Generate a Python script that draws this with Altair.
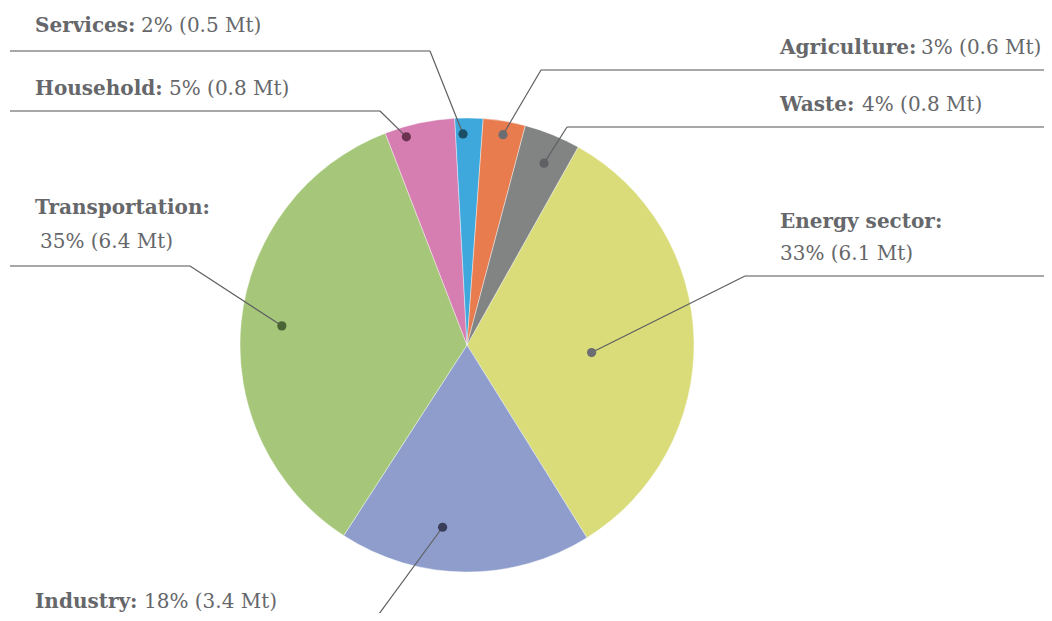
import math
import pandas as pd
import altair as alt

# ---- data ----
sectors = ["Energy sector", "Industry", "Transportation", "Household", "Services", "Agriculture", "Waste"]
shares = [33, 18, 35, 5, 2, 3, 4]
emissions_mt = [6.1, 3.4, 6.4, 0.8, 0.5, 0.6, 0.8]
slice_colors = ["#d9dc79", "#8e9dcb", "#a6c779", "#d67db2", "#3ea8dc", "#e87c4e", "#828484"]
dot_colors = ["#6c6d72", "#3a3e58", "#4a6436", "#6b3350", "#1c4e66", "#6c6d72", "#5f6064"]

# ---- layout (annotation placement, image pixel coordinates) ----
CX, CY, R = 467, 345, 227
START_DEG = 29.3
dot_angle_frac = [0.54, 0.61, 0.50, 0.27, 0.28, 0.52, 0.56]
dot_radius_frac = [0.55, 0.81, 0.82, 0.955, 0.93, 0.94, 0.87]
elbow_x = [745, 365, 190, 380, 430, 541, 567]
elbow_y = [276, 633, 266, 111, 51, 70, 127]
end_x = [1060, 10, 10, 10, 10, 1060, 1060]
name_x = [780, 35, 35, 35, 35, 780, 780]
name_y = [228, 608, 214, 95, 32, 54, 111]
value_x = [780, 144, 40, 169, 141, 921, 862]
value_y = [260, 608, 248, 95, 32, 54, 111]

FONT = "DejaVu Serif"
TEXT_COLOR = "#66676a"
W, H = 1036, 605
X0, Y0 = 8, 8

total = sum(shares)
pie = pd.DataFrame({"sector": sectors, "share": shares, "idx": list(range(len(sectors)))})

cum = 0.0
dots, leaders, hlines, names, values = [], [], [], [], []
for i, s in enumerate(sectors):
    a0 = START_DEG + 360.0 * cum / total
    cum += shares[i]
    a1 = START_DEG + 360.0 * cum / total
    ang = math.radians(a0 + dot_angle_frac[i] * (a1 - a0))
    dx = CX + dot_radius_frac[i] * R * math.sin(ang)
    dy = CY - dot_radius_frac[i] * R * math.cos(ang)
    dots.append({"sector": s, "x": dx, "y": dy})
    leaders += [{"sector": s, "seq": 0, "x": dx, "y": dy},
                {"sector": s, "seq": 1, "x": elbow_x[i], "y": elbow_y[i]}]
    hlines += [{"sector": s, "seq": 0, "x": elbow_x[i], "y": elbow_y[i]},
               {"sector": s, "seq": 1, "x": end_x[i], "y": elbow_y[i]}]
    names.append({"sector": s, "x": name_x[i], "y": name_y[i], "t": s + ":"})
    values.append({"sector": s, "x": value_x[i], "y": value_y[i],
                   "t": f"{shares[i]}% ({emissions_mt[i]:g} Mt)"})

xs = alt.Scale(domain=[X0, X0 + W], nice=False, zero=False)
ys = alt.Scale(domain=[Y0, Y0 + H], nice=False, zero=False, reverse=True)

start_rad = math.radians(START_DEG)
arcs = alt.Chart(pie).mark_arc(radius=R, stroke="#ffffff", strokeWidth=0.4).encode(
    theta=alt.Theta("share:Q", scale=alt.Scale(range=[start_rad, start_rad + 2 * math.pi])),
    order=alt.Order("idx:Q"),
    color=alt.Color("sector:N", scale=alt.Scale(domain=sectors, range=slice_colors), legend=None),
    x=alt.value(CX - X0),
    y=alt.value(CY - Y0),
)

leader = alt.Chart(pd.DataFrame(leaders)).mark_line(color="#5e5f63", strokeWidth=1.2).encode(
    x=alt.X("x:Q", scale=xs, axis=None),
    y=alt.Y("y:Q", scale=ys, axis=None),
    detail="sector:N",
    order="seq:Q",
)
hline = alt.Chart(pd.DataFrame(hlines)).mark_line(color="#8a8b8e", strokeWidth=1.6).encode(
    x=alt.X("x:Q", scale=xs, axis=None),
    y=alt.Y("y:Q", scale=ys, axis=None),
    detail="sector:N",
    order="seq:Q",
)
dot = alt.Chart(pd.DataFrame(dots)).mark_circle(size=85, opacity=1).encode(
    x=alt.X("x:Q", scale=xs, axis=None),
    y=alt.Y("y:Q", scale=ys, axis=None),
    color=alt.Color("sector:N", scale=alt.Scale(domain=sectors, range=dot_colors), legend=None),
)
name_txt = alt.Chart(pd.DataFrame(names)).mark_text(
    font=FONT, fontSize=20, fontWeight="bold", align="left", baseline="alphabetic", color=TEXT_COLOR
).encode(
    x=alt.X("x:Q", scale=xs, axis=None),
    y=alt.Y("y:Q", scale=ys, axis=None),
    text="t:N",
)
value_txt = alt.Chart(pd.DataFrame(values)).mark_text(
    font=FONT, fontSize=20, align="left", baseline="alphabetic", color=TEXT_COLOR
).encode(
    x=alt.X("x:Q", scale=xs, axis=None),
    y=alt.Y("y:Q", scale=ys, axis=None),
    text="t:N",
)

chart = alt.layer(arcs, hline, leader, dot, name_txt, value_txt).resolve_scale(
    color="independent", theta="independent"
).properties(
    width=W, height=H, padding=0, background="#ffffff", autosize="none"
).configure_view(stroke=None)

chart.save("out.html", embed_options={"renderer": "svg", "actions": False})
